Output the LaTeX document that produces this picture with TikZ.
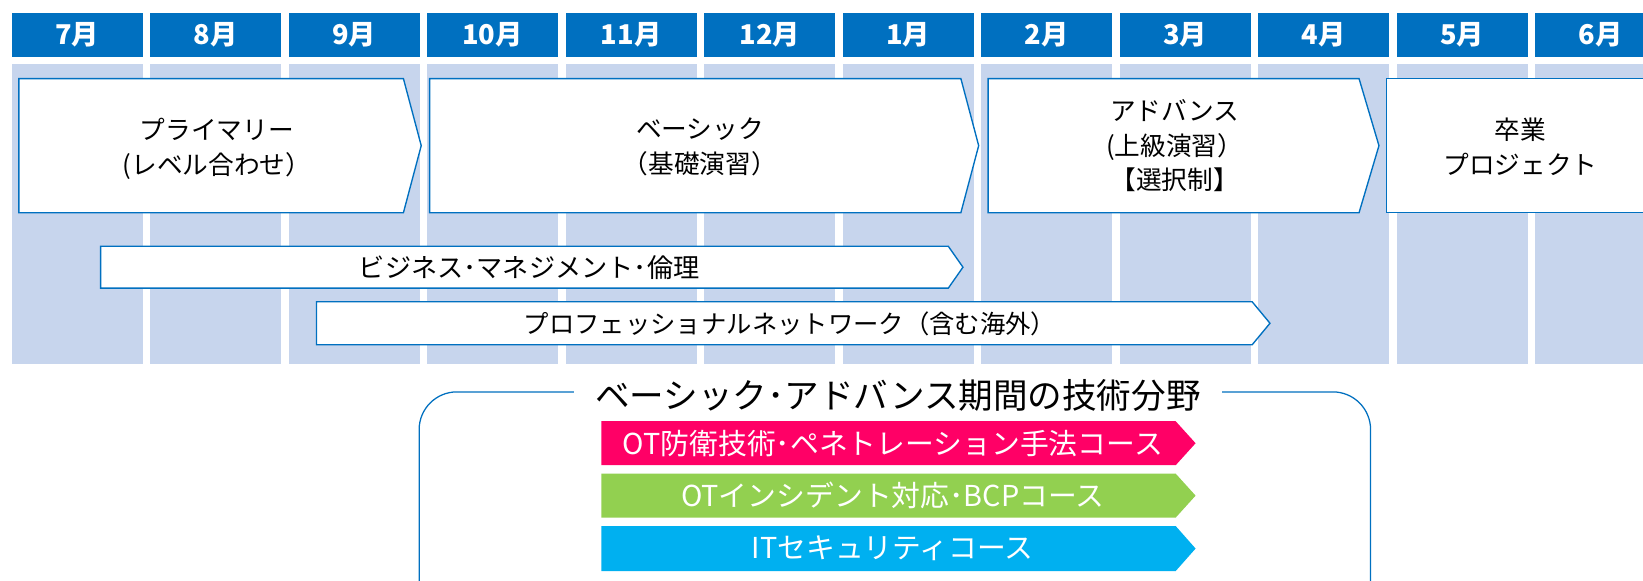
\documentclass[tikz,border=0pt]{standalone}
\usepackage{fontspec}
\setmainfont{Noto Sans CJK JP}
\definecolor{hdr}{HTML}{0070C0}
\definecolor{colbg}{HTML}{C7D5ED}
\definecolor{pinkc}{HTML}{FF0066}
\definecolor{greenc}{HTML}{92D050}
\definecolor{cyanc}{HTML}{00B0F0}
\newcommand\chevron[6]{%
  \path[#1] (#2,#5) -- (#3,#5) -- (#4,{(#5+#6)/2}) -- (#3,#6) -- (#2,#6) -- cycle;}
\begin{document}
\begin{tikzpicture}[x=1pt,y=-1pt,
  month/.style={fill=hdr,text=white,minimum width=125pt,minimum height=42pt,inner sep=0pt,
    font=\fontsize{26}{28}\selectfont\bfseries},
  phase/.style={fill=white,draw=hdr,line width=1.3pt,line join=miter},
  lbl/.style={align=center,inner sep=0pt,text=black,font=\fontsize{24.5}{33}\selectfont},
  course/.style={inner sep=0pt,text=white,font=\fontsize{27.5}{30}\selectfont}]
\useasboundingbox (0,0) rectangle (1568,554);
\clip (0,0) rectangle (1568,554);
\fill[white] (0,0) rectangle (1568,554);
% month columns
\foreach \i/\m in {0/7月,1/8月,2/9月,3/10月,4/11月,5/12月,6/1月,7/2月,8/3月,9/4月,10/5月,11/6月}{
  \pgfmathsetmacro\L{11+132.2*\i}
  \fill[colbg] (\L,61) rectangle ({\L+125},347);
  \node[month] (m\i) at ({\L+62.5},33) {\m};
}
% phases
\chevron{phase}{18}{385}{402}{75}{203}
\node[lbl] (prim) at (207,142) {プライマリー\\(レベル合わせ）};
\chevron{phase}{410}{917}{934}{75}{203}
\node[lbl] (basic) at (668,140) {ベーシック\\（基礎演習）};
\chevron{phase}{943}{1297}{1316}{75}{203}
\node[lbl] (adv) at (1121,139) {アドバンス\\(上級演習）\\【選択制】};
\path[phase] (1323,75) rectangle (1600,203);
\node[lbl] (grad) at (1451,140) {卒業\\プロジェクト};
% parallel tracks
\chevron{phase}{96}{905}{919}{235}{275}
\node[lbl,font=\fontsize{25}{30}\selectfont] (biz) at (505,255) {ビジネス･マネジメント･倫理};
\chevron{phase}{302}{1195}{1212}{288}{329}
\node[lbl,font=\fontsize{24.2}{30}\selectfont] (prof) at (754,309) {プロフェッショナルネットワーク（含む海外）};
% technical fields
\draw[hdr,line width=1.2pt,rounded corners=36pt] (400,374) rectangle (1308,590);
\node[fill=white,inner xsep=20pt,inner ysep=2pt,font=\fontsize{33}{36}\selectfont] (title) at (857,377) {ベーシック･アドバンス期間の技術分野};
\chevron{fill=pinkc}{574}{1122}{1141}{402}{444}
\node[course] (ot1) at (852,423) {OT防衛技術･ペネトレーション手法コース};
\chevron{fill=greenc}{574}{1122}{1141}{452}{494}
\node[course] (ot2) at (852,473) {OTインシデント対応･BCPコース};
\chevron{fill=cyanc}{574}{1122}{1141}{502}{545}
\node[course] (it) at (852,523) {ITセキュリティコース};
\end{tikzpicture}
\end{document}
